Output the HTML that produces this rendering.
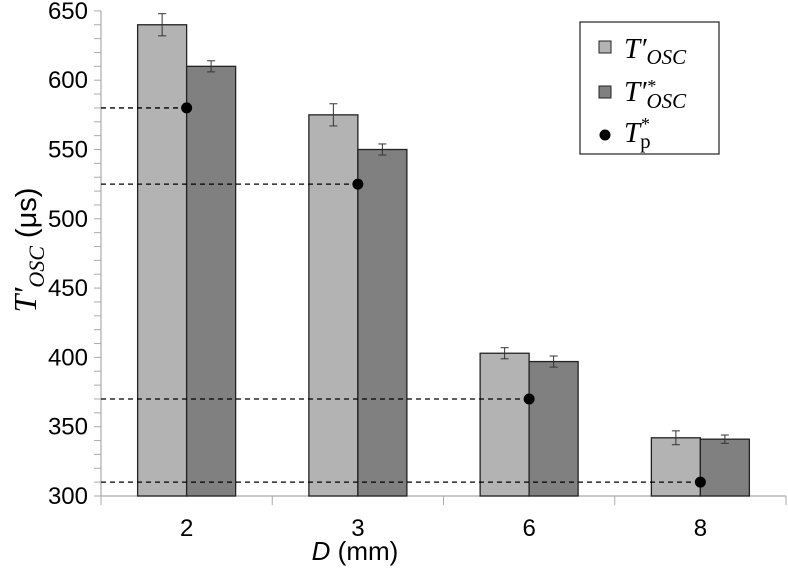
<!DOCTYPE html>
<html><head><meta charset="utf-8"><style>
body{margin:0;background:#fff}
svg{display:block;font-family:"Liberation Sans",sans-serif}
.ser{font-family:"Liberation Serif","DejaVu Serif",serif}
</style></head><body>
<svg id="chart" width="788" height="569" viewBox="0 0 788 569">
<g id="grid"></g>
<g id="marks"></g>
<g>
<rect x="580" y="22" width="139" height="132" fill="#fff" stroke="#222" stroke-width="1.2"/>
<g>
<rect x="599" y="41" width="12" height="12" fill="#b3b3b3" stroke="#222"/>
<text class="ser" x="624" y="58" font-size="29" font-style="italic">T′<tspan font-size="21" dy="6">OSC</tspan></text></g>
<g>
<rect x="599" y="86" width="12" height="12" fill="#808080" stroke="#222"/>
<text class="ser" x="624" y="101" font-size="29" font-style="italic">T′<tspan font-size="18" dy="-9">*</tspan><tspan font-size="21" dx="-9" dy="16">OSC</tspan></text></g>
<g>
<circle cx="605" cy="135" r="5.5" fill="#000"/>
<text class="ser" x="624" y="142" font-size="29" font-style="italic">T<tspan font-size="18" dy="-12">*</tspan><tspan font-size="21" font-style="normal" dx="-9" dy="18">p</tspan></text></g>
</g>
<text class="ser" transform="translate(36,250) rotate(-90)" text-anchor="middle" font-size="32"><tspan font-style="italic">T′</tspan><tspan font-style="italic" font-size="22" dy="8">OSC</tspan><tspan dy="-8" font-family="Liberation Sans" font-size="29"> (μs)</tspan></text>
<text x="355" y="560" text-anchor="middle" font-size="26"><tspan font-style="italic">D</tspan> (mm)</text>
</svg>
<script>
const categories=["2","3","6","8"];
const lightVals=[640,575,403,342];
const lightErr=[8,8,4,5];
const darkVals=[610,550,397,341];
const darkErr=[4,4,4,3];
const dotVals=[580,525,370,310];
const yTicks=[300,350,400,450,500,550,600,650];
const NS="http://www.w3.org/2000/svg";
const x0=101,catW=171.25,y0=496,pxPer=69.3/50,bw=49;
const y=v=>y0-(v-300)*pxPer;
const cx=i=>x0+catW*(i+0.5);
function mk(t,a,p){const e=document.createElementNS(NS,t);for(const k in a)e.setAttribute(k,a[k]);p.appendChild(e);return e;}
const grid=document.getElementById('grid'),marks=document.getElementById('marks');
let ax=mk('line',{x1:x0,y1:y(650),x2:x0,y2:y0,stroke:'#aaa','stroke-width':1.2},grid);


for(let v=300;v<=650;v+=10){mk('line',{x1:x0-7,y1:y(v),x2:x0,y2:y(v),stroke:'#aaa'},grid);}
yTicks.forEach(v=>{const t=mk('text',{x:x0-13,y:y(v)+8,'text-anchor':'end','font-size':24},grid);t.textContent=v;

});
let xa=mk('line',{x1:x0,y1:y0,x2:x0+catW*4,y2:y0,stroke:'#aaa','stroke-width':1.2},grid);


for(let i=0;i<=4;i++)mk('line',{x1:x0+catW*i,y1:y0,x2:x0+catW*i,y2:y0+9,stroke:'#aaa'},grid);
categories.forEach((c,i)=>{
 const t=mk('text',{x:cx(i),y:y0+40,'text-anchor':'middle','font-size':24},grid);t.textContent=c;
 
 
 const b1=mk('rect',{x:cx(i)-bw,y:y(lightVals[i]),width:bw,height:y0-y(lightVals[i]),fill:'#b3b3b3',stroke:'#222','stroke-width':1.3},marks);
 
 
 const b2=mk('rect',{x:cx(i),y:y(darkVals[i]),width:bw,height:y0-y(darkVals[i]),fill:'#808080',stroke:'#222','stroke-width':1.3},marks);
 
 
 [[cx(i)-bw/2,lightVals[i],lightErr[i]],[cx(i)+bw/2,darkVals[i],darkErr[i]]].forEach(([ex,v,e])=>{
  const g=mk('g',{stroke:'#333','stroke-width':1},marks);
  
  
  mk('line',{x1:ex,y1:y(v+e),x2:ex,y2:y(v-e)},g);
  mk('line',{x1:ex-4,y1:y(v+e),x2:ex+4,y2:y(v+e)},g);
  mk('line',{x1:ex-4,y1:y(v-e),x2:ex+4,y2:y(v-e)},g);
 });
 const d=mk('line',{x1:x0,y1:y(dotVals[i]),x2:cx(i),y2:y(dotVals[i]),stroke:'#000','stroke-width':1.3,'stroke-dasharray':'5,4'},marks);
 
 
 const p=mk('circle',{cx:cx(i),cy:y(dotVals[i]),r:5.5,fill:'#000'},marks);
 
 
});
</script>
</body></html>
